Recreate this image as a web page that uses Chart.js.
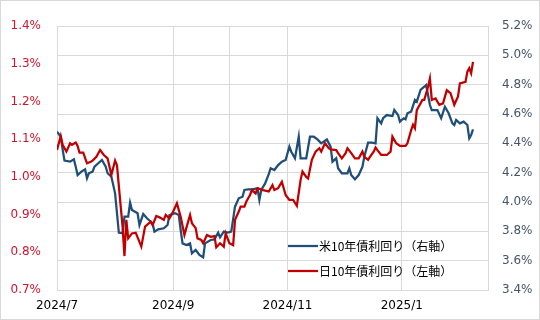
<!DOCTYPE html>
<html>
<head>
<meta charset="utf-8">
<script src="https://cdn.jsdelivr.net/npm/chart.js@4"></script>
<style>
  body { margin: 0; background: #fff; }
</style>
</head>
<body>
<canvas id="yieldChart" width="540" height="320"></canvas>
<script>
// days counted from 2024/7/1
const jpDays = [0,2,3,5,7,8,10,11,12,14,16,18,19,21,23,25,27,29,31,32,34,35,36,37,38,40,42,45,47,50,51,53,55,57,58,60,62,64,66,68,69,71,72,74,75,77,78,80,82,84,85,87,89,90,92,94,95,97,98,100,101,103,104,106,107,110,113,115,116,118,120,122,124,126,128,130,131,133,134,136,138,140,141,143,145,146,149,150,152,154,155,157,159,161,163,164,166,167,169,170,171,173,176,178,179,181,183,186,187,189,190,191,192,193,195,196,198,199,200,202,204,206,208,210,212,214,215,218,219,220,221,222];
const jpYield = [1.071,1.108,1.085,1.067,1.089,1.085,1.091,1.082,1.064,1.064,1.036,1.040,1.043,1.053,1.071,1.058,1.049,1.005,1.043,1.031,0.921,0.868,0.790,0.886,0.837,0.850,0.852,0.815,0.868,0.881,0.872,0.896,0.892,0.886,0.899,0.890,0.908,0.930,0.894,0.846,0.864,0.899,0.877,0.864,0.837,0.833,0.824,0.846,0.841,0.843,0.813,0.824,0.815,0.850,0.824,0.819,0.886,0.908,0.921,0.921,0.934,0.952,0.965,0.956,0.970,0.965,0.961,0.978,0.965,0.970,0.987,0.952,0.939,0.939,0.923,0.992,1.014,1.000,0.996,1.045,1.067,1.076,1.067,1.089,1.076,1.073,1.071,1.063,1.049,1.063,1.076,1.063,1.049,1.049,1.067,1.053,1.045,1.053,1.067,1.078,1.071,1.058,1.058,1.067,1.107,1.089,1.082,1.082,1.089,1.124,1.138,1.129,1.177,1.186,1.204,1.204,1.239,1.261,1.204,1.208,1.191,1.195,1.230,1.222,1.191,1.213,1.248,1.252,1.279,1.288,1.275,1.305];

const usDays = [0,2,3,4,7,9,10,11,13,15,16,17,19,20,22,24,26,27,29,31,33,35,36,38,39,40,43,44,46,48,51,52,54,57,59,60,63,65,66,67,69,71,72,74,76,78,79,82,84,86,87,89,91,93,95,97,99,100,102,104,107,108,109,111,113,114,116,118,120,122,124,125,127,129,130,133,135,137,139,141,144,146,147,149,150,152,155,156,157,159,161,163,164,166,168,170,171,173,174,176,179,180,182,183,185,186,187,189,191,192,194,196,197,199,200,202,203,205,207,209,211,212,213,215,217,219,220,221,222];
const usYield = [4.479,4.445,4.359,4.282,4.275,4.291,4.241,4.184,4.207,4.223,4.162,4.196,4.207,4.241,4.264,4.286,4.241,4.196,4.173,4.059,3.791,3.786,3.900,3.900,3.995,3.945,3.923,3.843,3.918,3.889,3.855,3.798,3.814,3.821,3.843,3.911,3.923,3.911,3.809,3.718,3.707,3.718,3.650,3.673,3.639,3.623,3.718,3.741,3.745,3.791,3.759,3.798,3.791,3.798,3.968,4.025,4.036,4.082,4.086,4.086,4.093,4.014,4.082,4.125,4.190,4.230,4.218,4.252,4.275,4.286,4.377,4.343,4.298,4.445,4.298,4.298,4.445,4.445,4.427,4.400,4.427,4.377,4.275,4.298,4.230,4.196,4.196,4.230,4.184,4.155,4.184,4.241,4.309,4.405,4.405,4.400,4.571,4.536,4.571,4.593,4.586,4.627,4.593,4.548,4.571,4.564,4.605,4.616,4.695,4.684,4.764,4.786,4.798,4.661,4.627,4.627,4.627,4.571,4.650,4.605,4.536,4.525,4.559,4.536,4.548,4.525,4.434,4.457,4.495];

// x axis: gridlines and labels
const gridDays = [0, 62, 92, 123, 184];
const tickDays = [0, 62, 123, 184];
const tickLabels = ["2024/7", "2024/9", "2024/11", "2025/1"];

const usLabel = "米10年債利回り（右軸）";
const jpLabel = "日10年債利回り（左軸）";

const blue = "#1F4E79";
const red = "#C00000";
const gridColor = "#d9d9d9";

Chart.defaults.font.family = "'DejaVu Sans', Verdana, sans-serif";
Chart.defaults.font.size = 12;

// white background + outer frame
const frame = {
  id: "frame",
  beforeDraw(chart) {
    const c = chart.ctx;
    c.save();
    c.fillStyle = "#fff";
    c.fillRect(0, 0, chart.width, chart.height);
    c.restore();
  },
  afterDraw(chart) {
    const c = chart.ctx;
    c.save();
    c.strokeStyle = gridColor;
    c.lineWidth = 1;
    c.strokeRect(0.5, 0.5, chart.width - 1, chart.height - 1);
    c.restore();
  },
};

// legend drawn inside the plot, lower right
const insideLegend = {
  id: "insideLegend",
  afterDraw(chart) {
    const c = chart.ctx;
    const x0 = 288;
    const items = [
      { label: usLabel, color: blue, y: 246 },
      { label: jpLabel, color: red, y: 271 },
    ];
    c.save();
    c.font = "12px 'Noto Sans CJK JP'";
    c.textBaseline = "middle";
    items.forEach(function (it) {
      c.strokeStyle = it.color;
      c.lineWidth = 2.25;
      c.beginPath();
      c.moveTo(x0, it.y);
      c.lineTo(x0 + 30, it.y);
      c.stroke();
      c.fillStyle = "#000";
      c.fillText(it.label, x0 + 31, it.y);
    });
    c.restore();
  },
};

const ctx = document.getElementById("yieldChart").getContext("2d");

new Chart(ctx, {
  type: "line",
  data: {
    datasets: [
      {
        label: jpLabel,
        data: jpDays.map((d, i) => ({ x: d, y: jpYield[i] })),
        yAxisID: "yL",
        borderColor: red,
        borderWidth: 2.25,
        pointRadius: 0,
        tension: 0,
        order: 0,
      },
      {
        label: usLabel,
        data: usDays.map((d, i) => ({ x: d, y: usYield[i] })),
        yAxisID: "yR",
        borderColor: blue,
        borderWidth: 2.25,
        pointRadius: 0,
        tension: 0,
        order: 1,
      },
    ],
  },
  options: {
    responsive: false,
    animation: false,
    layout: { padding: { top: 26 } },
    plugins: { legend: { display: false }, tooltip: { enabled: false } },
    scales: {
      x: {
        type: "linear",
        min: 0,
        max: 230,
        afterBuildTicks: (axis) => {
          axis.ticks = gridDays.map((v) => ({ value: v }));
        },
        afterFit: (axis) => {
          axis.height = 30;
        },
        ticks: {
          autoSkip: false,
          maxRotation: 0,
          padding: 9,
          color: "#000",
          callback: (v) => {
            const k = tickDays.indexOf(v);
            return k >= 0 ? tickLabels[k] : "";
          },
        },
        grid: { color: gridColor, drawTicks: false },
        border: { color: gridColor },
      },
      yL: {
        position: "left",
        min: 0.7,
        max: 1.4,
        afterFit: (axis) => {
          axis.width = 57;
        },
        ticks: {
          stepSize: 0.1,
          padding: 16,
          color: "#D0152E",
          callback: (v) => v.toFixed(1) + "%",
        },
        grid: { display: false, drawTicks: false },
        border: { color: gridColor },
      },
      yR: {
        position: "right",
        min: 3.4,
        max: 5.2,
        afterFit: (axis) => {
          axis.width = 52;
        },
        ticks: {
          stepSize: 0.2,
          padding: 14,
          color: "#44546A",
          callback: (v) => v.toFixed(1) + "%",
        },
        grid: { color: gridColor, drawTicks: false },
        border: { color: gridColor },
      },
    },
  },
  plugins: [frame, insideLegend],
});
</script>
</body>
</html>
